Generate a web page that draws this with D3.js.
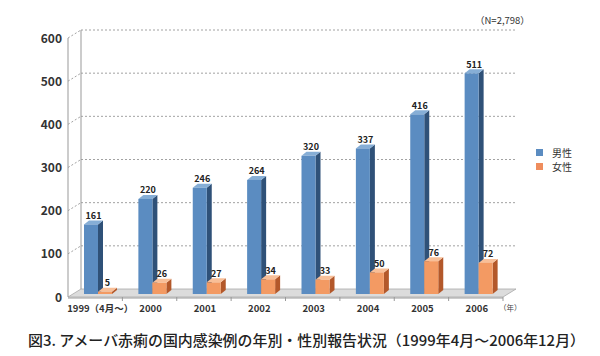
<!DOCTYPE html>
<html><head><meta charset="utf-8">
<script src="https://cdn.jsdelivr.net/npm/d3@7"></script>
<style>
html,body{margin:0;padding:0;background:#fff;}
svg{display:block;font-family:"Noto Sans CJK JP","Noto Sans",sans-serif;}
</style></head>
<body><svg id="c" width="600" height="356"></svg>
<script>
const years = ["1999（4月～）","2000","2001","2002","2003","2004","2005","2006"];
const male = [161,220,246,264,320,337,416,511];
const female = [5,26,27,34,33,50,76,72];
const yTicks = [0,100,200,300,400,500,600];
const seriesNames = ["男性","女性"];
const caption = "図3. アメーバ赤痢の国内感染例の年別・性別報告状況（1999年4月～2006年12月）";
const note = "（N=2,798）";
const unit = "（年）";

const svg = d3.select("#c");
const X0 = 68, X1 = 503, DX = 13, DY = 8;
const x = d3.scaleBand().domain(years).range([X0, X1]);
const yFront = d3.scaleLinear().domain([0,600]).range([297,38]);
const yBack = d3.scaleLinear().domain([0,600]).range([297-DY,38-DY]);
const yBar = d3.scaleLinear().domain([0,600]).range([294,294-600*0.4319]);

// floor
svg.append("polygon")
  .attr("points", [[X0,297],[X1,297],[X1+DX,297-DY],[X0+DX,297-DY]].map(p=>p.join(",")).join(" "))
  .attr("fill","#dcdcdc").attr("stroke","#a8a8a8").attr("stroke-width",0.8);
svg.append("line").attr("x1",X0).attr("x2",X1).attr("y1",298).attr("y2",298).attr("stroke","#999").attr("stroke-width",1);
// ticks on floor front edge
svg.selectAll(".xt").data(years.slice(1).concat(["end"])).join("line")
  .attr("x1",(d,i)=>X0+(i+1)*x.bandwidth()).attr("x2",(d,i)=>X0+(i+1)*x.bandwidth())
  .attr("y1",297).attr("y2",301).attr("stroke","#999");

// gridlines (back wall)
svg.selectAll(".grid").data(yTicks.slice(1)).join("line")
  .attr("x1",X0+DX).attr("x2",X1+DX).attr("y1",d=>yBack(d)).attr("y2",d=>yBack(d))
  .attr("stroke","#8a8a8a").attr("stroke-width",0.8).attr("stroke-dasharray","2,2");
svg.selectAll(".diag").data(yTicks.slice(1)).join("line")
  .attr("x1",X0).attr("x2",X0+DX).attr("y1",d=>yFront(d)).attr("y2",d=>yBack(d))
  .attr("stroke","#8a8a8a").attr("stroke-width",0.8).attr("stroke-dasharray","2,2");
// axis verticals
svg.append("line").attr("x1",X0).attr("x2",X0).attr("y1",yFront(600)).attr("y2",yFront(0)).attr("stroke","#999");
svg.append("line").attr("x1",X0+DX).attr("x2",X0+DX).attr("y1",yBack(600)).attr("y2",yBack(0)).attr("stroke","#999");

// y labels
svg.selectAll(".yl").data(yTicks).join("text")
  .attr("x",62).attr("y",d=>yFront(d)+4.5).attr("text-anchor","end")
  .attr("font-size",12).attr("font-weight","bold").attr("fill","#333").text(d=>d);

// bars
const bw = 14, bdx = 5, bdy = 4;
const styles = [
  {front:"#5b8cc1", side:"#2f5178", top:"#86aed6", off:16, data:male},
  {front:"#f39a63", side:"#b3582a", top:"#f8bf98", off:16+bw, data:female}
];
styles.forEach((s,si)=>{
  const g = svg.append("g");
  years.forEach((yr,i)=>{
    const v = s.data[i];
    const x0 = x(yr)+s.off, x1 = x0+bw, yt = yBar(v), yb = yBar(0);
    g.append("polygon").attr("points",[[x1,yb],[x1+bdx,yb-bdy],[x1+bdx,yt-bdy],[x1,yt]].map(p=>p.join(",")).join(" ")).attr("fill",s.side);
    g.append("polygon").attr("points",[[x0,yt],[x1,yt],[x1+bdx,yt-bdy],[x0+bdx,yt-bdy]].map(p=>p.join(",")).join(" ")).attr("fill",s.top);
    g.append("rect").attr("x",x0).attr("y",yt).attr("width",bw).attr("height",yb-yt).attr("fill",s.front);
    g.append("text").attr("x",x0+(bw+bdx)/2).attr("y",yt-bdy-1.5).attr("text-anchor","middle")
      .attr("font-size",9).attr("font-weight","bold").attr("fill","#222").text(v);
  });
});

// x labels
svg.selectAll(".xl").data(years).join("text")
  .attr("x",(d,i)=>x(d)+x.bandwidth()/2+(i===0?5:1)).attr("y",312).attr("text-anchor","middle")
  .attr("font-size",9.5).attr("font-weight","bold").attr("fill","#333").text(d=>d);
svg.append("text").attr("x",499).attr("y",311).attr("font-size",7.5).attr("fill","#444").text(unit);

// note
svg.append("text").attr("x",475).attr("y",24).attr("font-size",9.5).attr("fill","#333").text(note);

// legend
const lc = ["#5b8cc1","#ef8d5d"];
seriesNames.forEach((n,i)=>{
  svg.append("rect").attr("x",536).attr("y",149+i*14).attr("width",7).attr("height",7).attr("fill",lc[i]);
  svg.append("text").attr("x",552).attr("y",156.5+i*14).attr("font-size",10).attr("fill","#333").text(n);
});

// caption
svg.append("text").attr("x",28).attr("y",346).attr("font-size",14.5).attr("font-weight",500).attr("fill","#222")
  .attr("textLength",557).attr("lengthAdjust","spacingAndGlyphs").text(caption);
</script></body></html>
